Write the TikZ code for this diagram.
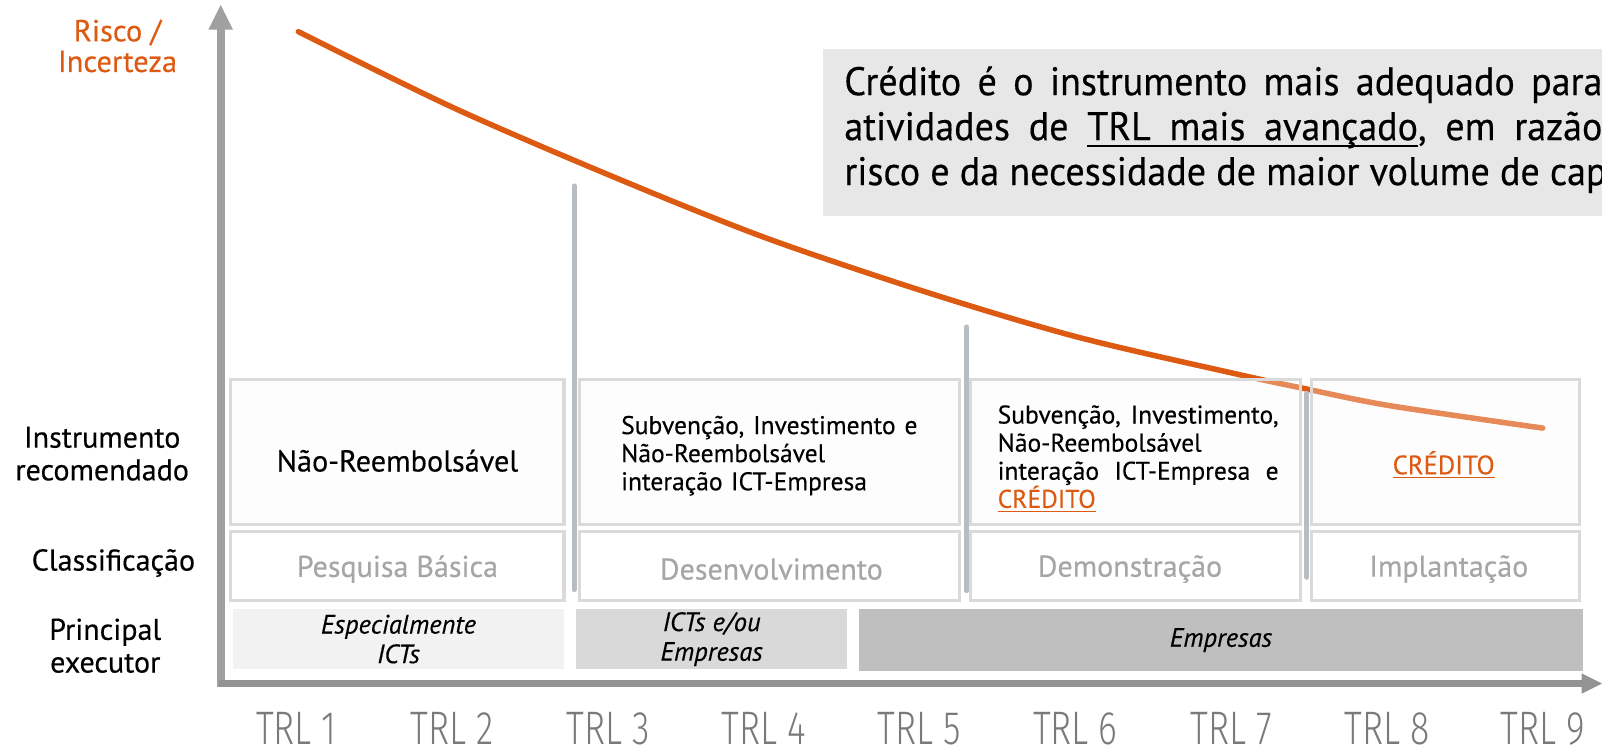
\documentclass[tikz,border=0pt]{standalone}
\usepackage{fontspec}
\setmainfont{PT Sans}[FakeBold=0.35]
\newfontfamily\msgfont{PT Sans}[FakeStretch=0.955, FakeBold=0.35]
\newfontfamily\trlfont{Fira Sans Light}[FakeStretch=0.76]
\definecolor{orng}{HTML}{DD5A12}
\definecolor{axisgray}{HTML}{A0A0A0}
\definecolor{sepgray}{HTML}{B8BCC3}
\definecolor{boxline}{HTML}{DADADA}
\definecolor{topfill}{HTML}{E7E7E7}
\definecolor{lblgray}{HTML}{A6A6A6}
\definecolor{trlgray}{HTML}{7A7A7A}
\definecolor{exone}{HTML}{F2F2F2}
\definecolor{extwo}{HTML}{D9D9D9}
\definecolor{exthree}{HTML}{BFBFBF}
\newcommand{\jline}[2]{\leavevmode\hbox to #1{#2}}
\newcommand{\ulw}[1]{\setbox0\hbox{#1}\rlap{\vrule height -2.3pt depth 3.5pt width \wd0}\box0}
\newcommand{\ulgap}{\leaders\vrule height -2.3pt depth 3.5pt\hfill}
\begin{document}
\begin{tikzpicture}[x=0.5pt,y=-0.5pt,
  rowone/.style={draw=boxline, line width=1.5pt, fill=white!98!black, fill opacity=0.3, minimum height=71pt, inner sep=0pt},
  rowtwo/.style={draw=boxline, line width=1.5pt, fill=white, minimum height=34pt, inner sep=0pt},
  rowthree/.style={minimum height=29.5pt, inner sep=0pt, font=\fontsize{13}{14.5}\selectfont\itshape, align=center},
  cls/.style={text=lblgray, inner sep=0pt, font=\fontsize{14.7}{16}\selectfont},
  instr/.style={inner sep=0pt, align=left, font=\fontsize{12.5}{13.75}\selectfont},
  sidelbl/.style={align=center, font=\fontsize{14.7}{16}\selectfont, inner sep=0pt},
  seprule/.style={draw=sepgray, line width=2.5pt, line cap=round},
  trl/.style={font=\trlfont\fontsize{23}{24}\selectfont, text=trlgray, inner sep=0pt},
  curve/.style={draw=orng, line width=2.7pt, line cap=round}
]
\useasboundingbox (0,0) rectangle (1568,736);

% risk curve
\draw[curve] plot[smooth, tension=0.5] coordinates {(292,31) (445,106) (605,175) (750,233) (910,287) (1055,330) (1210,366) (1280,381) (1360,397) (1510,419)};

% top message box
\fill[topfill] (806,48) rectangle (1620,211);
\node[anchor=west, align=left, inner sep=0pt, font=\msgfont\fontsize{19.5}{22}\selectfont] (msg) at (826,127)
 {\jline{371pt}{Crédito\hfill é\hfill o\hfill instrumento\hfill mais\hfill adequado\hfill para}\\
  \jline{371pt}{atividades\hfill de\hfill \ulw{TRL}\ulgap\ulw{mais}\ulgap\ulw{avançado},\hfill em\hfill razão}\\
  risco e da necessidade de maior volume de cap};

% axes
\draw[axisgray, line width=4pt] (216,672) -- (216,26);
\fill[axisgray] (204,29) -- (216,5) -- (228,29) -- cycle;
\draw[axisgray!92!black, line width=3pt] (214,669) -- (1550,669);
\fill[axisgray!92!black] (1548,659) -- (1568,669) -- (1548,679) -- cycle;

\node[align=center, text=orng, inner sep=0pt, font=\fontsize{14.9}{15}\selectfont] (risk) at (115,45) {Risco /\\Incerteza};

% row 1 boxes
\node[rowone, minimum width=163pt] (i1) at (389,442) {};
\node[rowone, minimum width=186pt] (i2) at (753,442) {};
\node[rowone, minimum width=161.5pt] (i3) at (1111.5,442) {};
\node[rowone, minimum width=131pt] (i4) at (1415,442) {};
% row 1 texts
\node[inner sep=0pt, font=\fontsize{14.8}{16}\selectfont] (ti1) at (389,451) {Não-Reembolsável};
\node[instr, text width=145pt] (ti2) at (753,446)
 {\jline{145pt}{Subvenção,\hfill Investimento\hfill e}\\Não-Reembolsável\\interação ICT-Empresa};
\node[instr, text width=137.5pt] (ti3) at (1114,449)
 {\jline{137.5pt}{Subvenção,\hfill Investimento,}\\Não-Reembolsável\\\jline{137.5pt}{interação\hfill ICT-Empresa\hfill e}\\\textcolor{orng}{\underline{CRÉDITO}}};
\node[inner sep=0pt, font=\fontsize{13}{14}\selectfont] (ti4) at (1413,455) {\textcolor{orng}{\underline{CRÉDITO}}};

% row 2
\node[rowtwo, minimum width=163pt] (c1) at (389,554) {};
\node[rowtwo, minimum width=186pt] (c2) at (753,554) {};
\node[rowtwo, minimum width=161.5pt] (c3) at (1111.5,554) {};
\node[rowtwo, minimum width=131pt] (c4) at (1415,554) {};
\node[cls] (tc1) at (389,557) {Pesquisa Básica};
\node[cls] (tc2) at (755,557) {Desenvolvimento};
\node[cls] (tc3) at (1106,557) {Demonstração};
\node[cls] (tc4) at (1418,557) {Implantação};

% row 3
\node[rowthree, fill=exone, minimum width=162pt] (e1) at (390,625.5) {Especialmente\\ICTs};
\node[rowthree, fill=extwo, minimum width=132.5pt] (e2) at (696.5,625.5) {ICTs e/ou\\Empresas};
\node[rowthree, fill=exthree, minimum width=354pt, minimum height=30.5pt] (e3) at (1195,626.5) {Empresas};

% separators
\draw[seprule] (562,182) -- (562,577);
\draw[seprule] (946,320) -- (946,578);
\draw[seprule] (1279,385) -- (1279,565);

% side labels
\node[sidelbl] (l1) at (100,444) {Instrumento\\recomendado};
\node[sidelbl] (l2) at (111,551) {Classificação};
\node[sidelbl] (l3) at (103,632) {Principal\\executor};

% TRL labels
\foreach \i in {1,...,9} {
  \node[trl] (trl\i) at ({290+152.5*(\i-1)},713) {TRL \i};
}
\end{tikzpicture}
\end{document}
